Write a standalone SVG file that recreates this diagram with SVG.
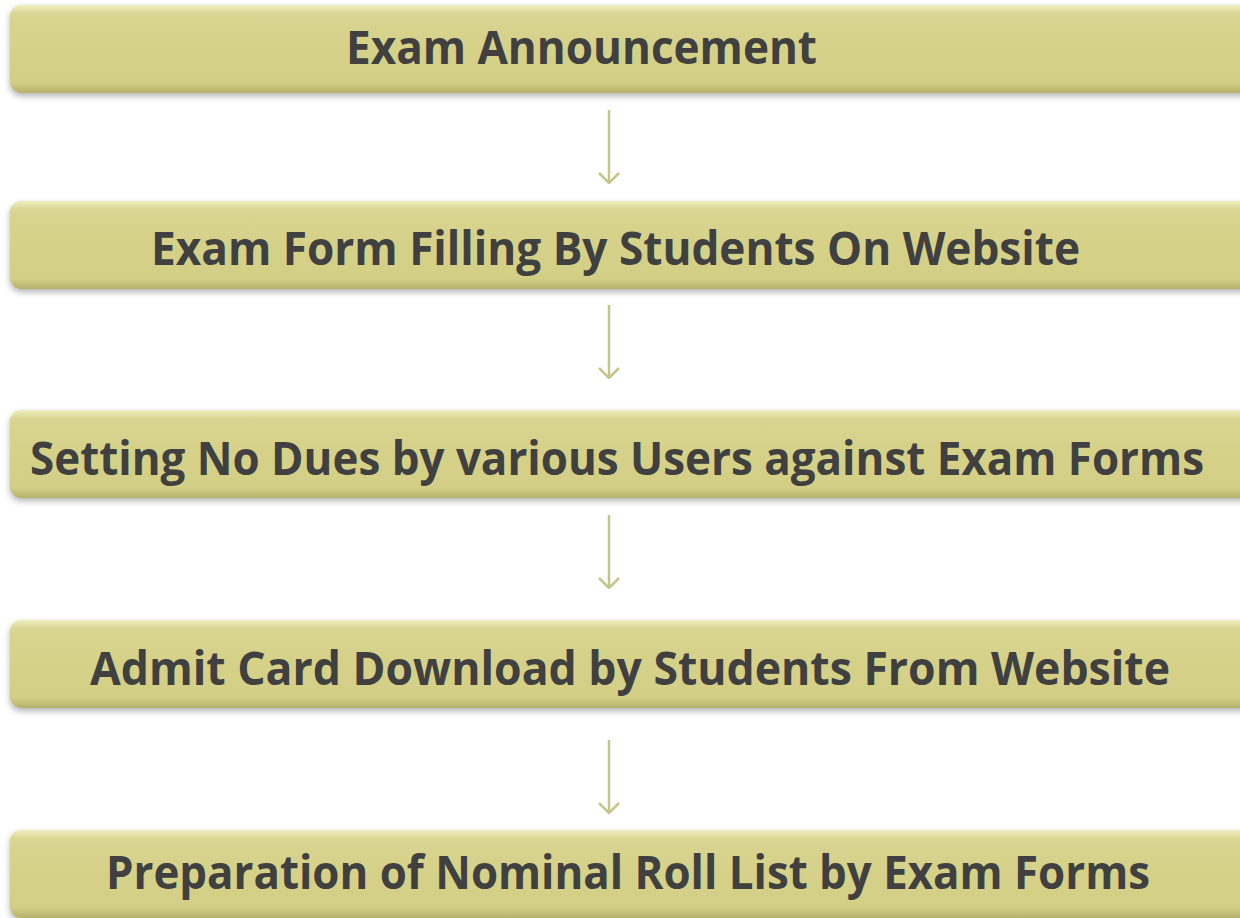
<svg xmlns="http://www.w3.org/2000/svg" width="1240" height="918" viewBox="0 0 1240 918">
<defs>
<linearGradient id="g" x1="0" y1="0" x2="0" y2="1">
<stop offset="0" stop-color="#f0eec0"/>
<stop offset="0.1" stop-color="#d9d592"/>
<stop offset="0.5" stop-color="#d5d188"/>
<stop offset="0.88" stop-color="#d3cf86"/>
<stop offset="1" stop-color="#b5b16c"/>
</linearGradient>
<filter id="sh" x="-5%" y="-20%" width="110%" height="150%">
<feDropShadow dx="0" dy="3" stdDeviation="3" flood-color="#000" flood-opacity="0.3"/>
</filter>
<marker id="ah" viewBox="0 0 12 22" refX="11" refY="11" markerWidth="12" markerHeight="22" markerUnits="userSpaceOnUse" orient="auto">
<path d="M1 1 L11 11 L1 21" fill="none" stroke="#c6c68a" stroke-width="2.5"/>
</marker>
</defs>
<style>
.box{fill:url(#g);filter:url(#sh)}
.t{font-family:"Open Sans","Liberation Sans",sans-serif;font-weight:bold;font-size:47px;fill:#404040}
.c{stroke:#c6c68a;stroke-width:2.5;fill:none}
</style>
<rect width="1240" height="918" fill="#ffffff"/>
<g id="n1"><rect class="box" x="10" y="5" width="1250" height="88" rx="11"/><text class="t" x="346" y="64" textLength="471" lengthAdjust="spacingAndGlyphs">Exam Announcement</text></g>
<g id="n2"><rect class="box" x="10" y="201" width="1250" height="88" rx="11"/><text class="t" x="151" y="265" textLength="929" lengthAdjust="spacingAndGlyphs">Exam Form Filling By Students On Website</text></g>
<g id="n3"><rect class="box" x="10" y="410" width="1250" height="88" rx="11"/><text class="t" x="30" y="475" textLength="1174" lengthAdjust="spacingAndGlyphs">Setting No Dues by various Users against Exam Forms</text></g>
<g id="n4"><rect class="box" x="10" y="620" width="1250" height="88" rx="11"/><text class="t" x="90" y="685" textLength="1080" lengthAdjust="spacingAndGlyphs">Admit Card Download by Students From Website</text></g>
<g id="n5"><rect class="box" x="10" y="830" width="1250" height="88" rx="11"/><text class="t" x="106" y="889" textLength="1044" lengthAdjust="spacingAndGlyphs">Preparation of Nominal Roll List by Exam Forms</text></g>
<g id="connectors">
<line class="c" x1="609" y1="110" x2="609" y2="183" marker-end="url(#ah)"/>
<line class="c" x1="609" y1="305" x2="609" y2="378" marker-end="url(#ah)"/>
<line class="c" x1="609" y1="515" x2="609" y2="588" marker-end="url(#ah)"/>
<line class="c" x1="609" y1="740" x2="609" y2="813" marker-end="url(#ah)"/>
</g>
</svg>
